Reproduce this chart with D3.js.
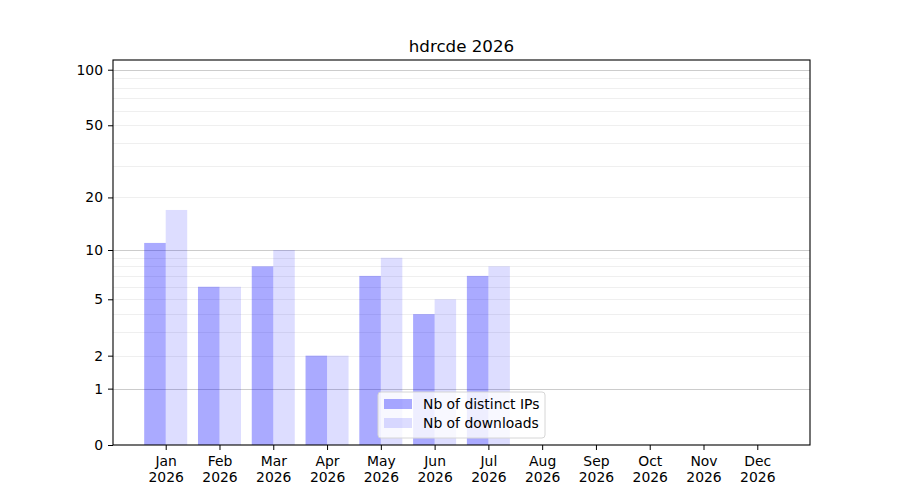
<!DOCTYPE html>
<html>
<head>
<meta charset="utf-8">
<script src="https://cdn.jsdelivr.net/npm/d3@7"></script>
<style>
  body { margin: 0; background: #fff; }
  svg { font-family: "DejaVu Sans", sans-serif; }
</style>
</head>
<body>
<div id="chart"></div>
<script>
// data
const months = ["Jan", "Feb", "Mar", "Apr", "May", "Jun", "Jul", "Aug", "Sep", "Oct", "Nov", "Dec"];
const year = "2026";
const distinctIps = [11, 6, 8, 2, 7, 4, 7];
const downloads = [17, 6, 10, 2, 9, 5, 8];
const yTicks = [0, 1, 2, 5, 10, 20, 50, 100];
const majorGrid = [1, 10, 100];
const minorGrid = [2, 3, 4, 5, 6, 7, 8, 9, 20, 30, 40, 50, 60, 70, 80, 90];

const width = 900;
const height = 500;
const margin = {top: 60, right: 90, bottom: 55, left: 113};
const fontSize = 13.9;

const svg = d3.select("#chart").append("svg")
    .attr("width", width)
    .attr("height", height);

const x = d3.scaleLinear()
    .domain([-0.98, 11.98])
    .range([margin.left, width - margin.right]);

// symlog with constant 1 gives the log(1+x) spacing of the original
const y = d3.scaleSymlog()
    .constant(1)
    .domain([0, 112.8])
    .range([height - margin.bottom, margin.top]);

const barW = x(0.4) - x(0);

// grid
svg.append("g")
    .selectAll("line")
    .data(minorGrid)
    .join("line")
    .attr("x1", margin.left)
    .attr("x2", width - margin.right)
    .attr("y1", d => Math.round(y(d)) + 0.5)
    .attr("y2", d => Math.round(y(d)) + 0.5)
    .attr("stroke", "#ebebeb")
    .attr("stroke-width", 0.8);

svg.append("g")
    .selectAll("line")
    .data(majorGrid)
    .join("line")
    .attr("x1", margin.left)
    .attr("x2", width - margin.right)
    .attr("y1", d => Math.round(y(d)) + 0.5)
    .attr("y2", d => Math.round(y(d)) + 0.5)
    .attr("stroke", "#cccccc")
    .attr("stroke-width", 1);

// bars
svg.append("g")
    .selectAll("rect")
    .data(distinctIps)
    .join("rect")
    .attr("x", (d, i) => x(i) - barW)
    .attr("width", barW)
    .attr("y", d => y(d))
    .attr("height", d => y(0) - y(d))
    .attr("fill", "#0000ff")
    .attr("fill-opacity", 0.333);

svg.append("g")
    .selectAll("rect")
    .data(downloads)
    .join("rect")
    .attr("x", (d, i) => x(i))
    .attr("width", barW)
    .attr("y", d => y(d))
    .attr("height", d => y(0) - y(d))
    .attr("fill", "#0000ff")
    .attr("fill-opacity", 0.133);

// frame
svg.append("rect")
    .attr("x", margin.left)
    .attr("y", margin.top)
    .attr("width", width - margin.left - margin.right)
    .attr("height", height - margin.top - margin.bottom)
    .attr("fill", "none")
    .attr("stroke", "#000")
    .attr("stroke-width", 1.1);

// y axis
const yAxis = svg.append("g")
    .attr("transform", `translate(${margin.left},0)`)
    .call(d3.axisLeft(y).tickValues(yTicks).tickFormat(d3.format("d")).tickSize(5).tickPadding(5));
yAxis.select(".domain").remove();
yAxis.selectAll("text").attr("font-size", fontSize).attr("fill", "#000").attr("font-family", "DejaVu Sans");

// x axis
const xAxis = svg.append("g")
    .attr("transform", `translate(0,${height - margin.bottom})`)
    .call(d3.axisBottom(x).tickValues(d3.range(months.length)).tickFormat(i => months[i]).tickSize(5).tickPadding(6));
xAxis.select(".domain").remove();
xAxis.selectAll("text")
    .attr("font-size", fontSize)
    .attr("fill", "#000")
    .attr("font-family", "DejaVu Sans")
    .each(function (i) {
        const t = d3.select(this);
        t.text(null);
        t.append("tspan").attr("x", 0).text(months[i]);
        t.append("tspan").attr("x", 0).attr("dy", "1.17em").text(year);
    });

// title
svg.append("text")
    .attr("x", (margin.left + width - margin.right) / 2)
    .attr("y", 52)
    .attr("text-anchor", "middle")
    .attr("font-size", 16.7)
    .text("hdrcde 2026");

// legend, lower centre
const legendItems = [
    {label: "Nb of distinct IPs", opacity: 0.333},
    {label: "Nb of downloads", opacity: 0.133}
];
const lg = svg.append("g")
    .attr("transform", `translate(378,392)`);
lg.append("rect")
    .attr("width", 167)
    .attr("height", 46)
    .attr("rx", 3)
    .attr("fill", "#fff")
    .attr("fill-opacity", 0.8)
    .attr("stroke", "#d6d6d6");
const li = lg.selectAll("g.item")
    .data(legendItems)
    .join("g")
    .attr("class", "item")
    .attr("transform", (d, i) => `translate(6,${7 + i * 19})`);
li.append("rect")
    .attr("width", 28)
    .attr("height", 10)
    .attr("fill", "#0000ff")
    .attr("fill-opacity", d => d.opacity);
li.append("text")
    .attr("x", 39)
    .attr("y", 10)
    .attr("font-size", fontSize)
    .text(d => d.label);
</script>
</body>
</html>
